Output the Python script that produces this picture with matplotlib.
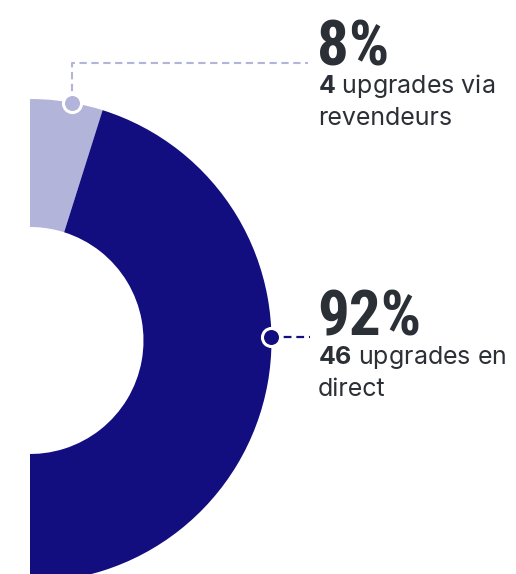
import matplotlib
matplotlib.use("Agg")
import matplotlib.pyplot as plt
from matplotlib import font_manager
from matplotlib.font_manager import FontProperties
from matplotlib.textpath import TextPath
import numpy as np

# ---- data ----
labels = ["revendeurs", "direct"]
counts = [4, 46]
pct_labels = ["8%", "92%"]
desc_first = ["4", "46"]
desc_rest = ["upgrades via", "upgrades en"]
desc_second = ["revendeurs", "direct"]

colors = ["#b3b4d9", "#120e7f"]
text_color = "#2b2f36"

SANS_PREFIXES = ("Noto Sans", "Open Sans", "Roboto", "Liberation Sans",
                 "DejaVu Sans", "Lato", "Inter")


def weight_num(w):
    if isinstance(w, (int, float)):
        return w
    return {"bold": 700, "heavy": 800, "black": 900, "semibold": 600,
            "demibold": 600, "extra bold": 800}.get(str(w).lower(), 400)


def pick_condensed_bold(target=2.0):
    best = None
    seen = set()
    for f in font_manager.fontManager.ttflist:
        if f.fname in seen:
            continue
        seen.add(f.fname)
        if not f.name.startswith(SANS_PREFIXES):
            continue
        if "CJK" in f.name or "Mono" in f.name or "Mono" in f.fname:
            continue
        w = weight_num(f.weight)
        if f.style != "normal" or w < 600:
            continue
        try:
            fp = FontProperties(fname=f.fname, size=100)
            wbox = TextPath((0, 0), "92%", prop=fp).get_extents()
            hbox = TextPath((0, 0), "9", prop=fp).get_extents()
            ratio = wbox.width / hbox.height
        except Exception:
            continue
        score = abs(ratio - target) + 0.0012 * max(0, 800 - w) + 0.0005 * max(0, w - 800)
        if best is None or score < best[0]:
            best = (score, f.fname, hbox.height / 100.0)
    if best is None:
        return None, None
    return FontProperties(fname=best[1]), best[2]


names = {f.name for f in font_manager.fontManager.ttflist}
body_name = next((n for n in ["Inter", "Lato", "DejaVu Sans"] if n in names), "DejaVu Sans")
plt.rcParams["mathtext.fontset"] = "custom"
plt.rcParams["mathtext.bf"] = body_name + ":bold"
plt.rcParams["mathtext.rm"] = body_name
body_family = [body_name, "DejaVu Sans"]

big_fp, cap_ratio = pick_condensed_bold()

W, H = 516, 574
fig = plt.figure(figsize=(W / 100, H / 100), dpi=100)
ax = fig.add_axes([30 / W, 0, (W - 30) / W, 1])

cx, cy = 30, 574 - 340.5
r_out, r_in = 241.5, 113.5
total = sum(counts)
light_deg = 360 * counts[0] / total
start = 72.5 + light_deg

wedges, _ = ax.pie(counts, colors=colors, startangle=start, counterclock=False,
                   center=(cx, cy), radius=r_out,
                   wedgeprops=dict(width=r_out - r_in, linewidth=0))
for w in wedges:
    w.set_clip_on(True)
    w.set_clip_box(ax.bbox)
ax.set_xlim(30, W)
ax.set_ylim(0, H)
ax.set_aspect("equal", adjustable="box")
ax.set_axis_off()

# markers on the outer edge
marker_angles = [80.0, 0.8]
mpos = [(cx + r_out * np.cos(np.radians(a)), cy + r_out * np.sin(np.radians(a))) for a in marker_angles]

# leader lines
lx, ly = mpos[0]
ax.plot([lx, lx, 308], [ly, 574 - 63, 574 - 63], color=colors[0], lw=1.5,
        dashes=(3.5, 2.2), zorder=3)
dx_, dy_ = mpos[1]
ax.plot([dx_, 310], [dy_, dy_], color=colors[1], lw=1.6, dashes=(3.5, 2.2), zorder=3)

for (mx, my), c in zip(mpos, colors):
    ax.plot([mx], [my], marker="o", ms=13, mfc=c, mec="white", mew=2.2, zorder=5)

# texts
big_base = [574 - 65, 574 - 336]
tx = 317
cap_px = 46.0
for i in range(2):
    b = big_base[i]
    if big_fp is not None:
        fp = big_fp.copy()
        size_px = cap_px / cap_ratio
        fp.set_size(size_px * 72 / 100)
        ax.text(tx, b, pct_labels[i], fontproperties=fp,
                color=text_color, va="baseline", ha="left")
    else:
        ax.text(tx, b, pct_labels[i], family="DejaVu Sans", fontweight="bold",
                fontsize=42, color=text_color, va="baseline", ha="left")
    ax.text(tx + 1, b - 28, r"$\mathbf{" + desc_first[i] + "}$ " + desc_rest[i],
            family=body_family, fontsize=18, color=text_color, va="baseline", ha="left")
    ax.text(tx + 1, b - 60, desc_second[i], family=body_family, fontsize=18,
            color=text_color, va="baseline", ha="left")

fig.savefig("out.png", dpi=100, facecolor="white")
